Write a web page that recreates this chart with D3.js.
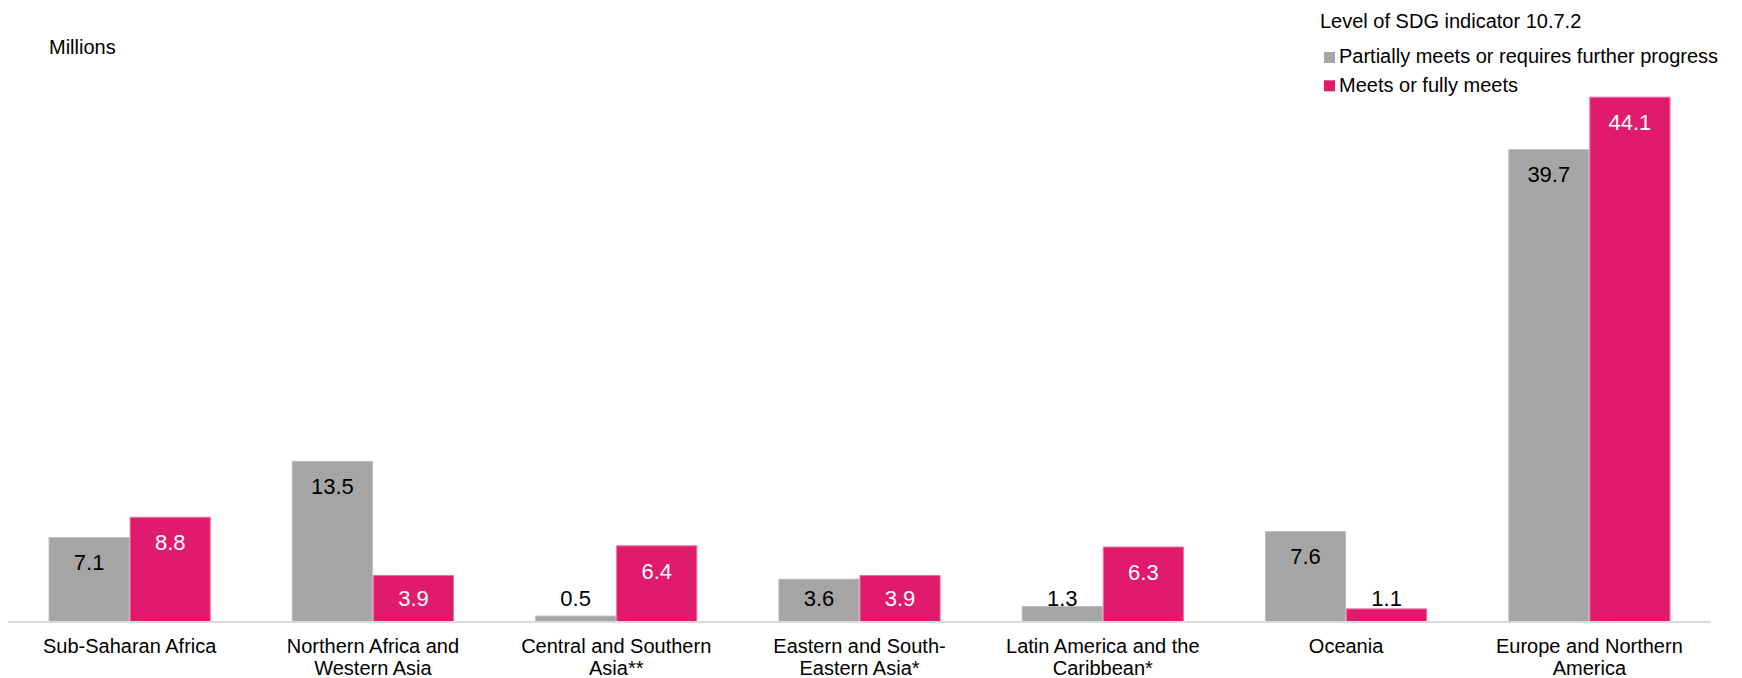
<!DOCTYPE html>
<html>
<head>
<meta charset="utf-8">
<script src="https://cdn.jsdelivr.net/npm/d3@7/dist/d3.min.js"></script>
<style>
  html, body { margin: 0; padding: 0; background: #ffffff; }
  svg { display: block; font-family: "Liberation Sans", Arial, sans-serif; }
</style>
</head>
<body>
<svg id="chart" width="1742" height="678"></svg>
<script>
// Regions (line breaks mark how each axis label wraps)
const categories = [
  "Sub-Saharan Africa",
  "Northern Africa and\nWestern Asia",
  "Central and Southern\nAsia**",
  "Eastern and South-\nEastern Asia*",
  "Latin America and the\nCaribbean*",
  "Oceania",
  "Europe and Northern\nAmerica"
];

// Migrants in millions, by level of SDG indicator 10.7.2
const partiallyMeets = [7.1, 13.5, 0.5, 3.6, 1.3, 7.6, 39.7];
const fullyMeets     = [8.8, 3.9, 6.4, 3.9, 6.3, 1.1, 44.1];

const seriesNames = [
  "Partially meets or requires further progress",
  "Meets or fully meets"
];
const legendTitle = "Level of SDG indicator 10.7.2";
const unitLabel = "Millions";
const yDomain = [0, 50];

const colors = ["#a5a5a5", "#e01a6c"];
const edgeColors = ["#bdbdbd", "#ec6d9f"];
const insideText = ["#000000", "#ffffff"];

const svg = d3.select("#chart");

const plot = { left: 8, right: 1711, top: 27, bottom: 622 };

const x0 = d3.scaleBand()
  .domain(categories)
  .range([plot.left, plot.right])
  .paddingInner(1 / 3)
  .paddingOuter(1 / 6);

const x1 = d3.scaleBand()
  .domain([0, 1])
  .range([0, x0.bandwidth()]);

const y = d3.scaleLinear()
  .domain(yDomain)
  .range([plot.bottom, plot.top]);

const rows = categories.map((c, i) => ({
  category: c,
  values: [partiallyMeets[i], fullyMeets[i]]
}));

// Bars
const groups = svg.append("g").selectAll("g")
  .data(rows)
  .join("g")
  .attr("transform", d => `translate(${x0(d.category)},0)`);

groups.selectAll("rect")
  .data(d => d.values.map((v, s) => ({ v, s })))
  .join("rect")
  .attr("x", d => x1(d.s) + 0.5)
  .attr("y", d => y(d.v))
  .attr("width", x1.bandwidth() - 1)
  .attr("height", d => y(0) - y(d.v))
  .attr("fill", d => colors[d.s])
  .attr("stroke", d => edgeColors[d.s])
  .attr("stroke-width", 1);

// Value labels: near the top inside the bar, never lower than a fixed
// distance above the baseline (short bars push the label above them)
const labelFloor = y(0) - 24;
groups.selectAll("text.value")
  .data(d => d.values.map((v, s) => ({ v, s })))
  .join("text")
  .attr("class", "value")
  .attr("x", d => x1(d.s) + x1.bandwidth() / 2)
  .attr("y", d => Math.min(y(d.v) + 25, labelFloor))
  .attr("dy", "0.36em")
  .attr("text-anchor", "middle")
  .attr("font-size", 22)
  .attr("fill", d => {
    const cy = Math.min(y(d.v) + 25, labelFloor);
    return (y(d.v) < cy - 8) ? insideText[d.s] : "#000000";
  })
  .text(d => d3.format(".1f")(d.v));

// Category axis
const xAxis = d3.axisBottom(x0).tickSize(0).tickPadding(0);
const axisG = svg.append("g")
  .attr("transform", `translate(0,${plot.bottom})`)
  .call(xAxis);
axisG.select(".domain").remove();
axisG.append("line")
  .attr("x1", plot.left)
  .attr("x2", plot.right)
  .attr("y1", 0)
  .attr("y2", 0)
  .attr("stroke", "#d9d9d9")
  .attr("stroke-width", 2);

axisG.selectAll(".tick text").each(function(d) {
  const t = d3.select(this);
  t.text(null)
    .attr("y", 31)
    .attr("dy", null)
    .attr("font-size", 20)
    .attr("fill", "#000000")
    .attr("font-family", "'Liberation Sans', Arial, sans-serif");
  d.split("\n").forEach((line, i) => {
    t.append("tspan")
      .attr("x", 0)
      .attr("dy", i === 0 ? 0 : 21.5)
      .text(line);
  });
});

// Unit label
svg.append("text")
  .attr("x", 49)
  .attr("y", 54)
  .attr("font-size", 20)
  .attr("fill", "#000000")
  .text(unitLabel);

// Legend
const legend = svg.append("g").attr("transform", "translate(1320,0)");
legend.append("text")
  .attr("x", 0)
  .attr("y", 28)
  .attr("font-size", 20)
  .attr("fill", "#000000")
  .text(legendTitle);

const items = legend.selectAll("g.item")
  .data(seriesNames)
  .join("g")
  .attr("class", "item")
  .attr("transform", (d, i) => `translate(0,${52 + i * 28.3})`);

items.append("rect")
  .attr("x", 4)
  .attr("y", 0)
  .attr("width", 11)
  .attr("height", 11)
  .attr("fill", (d, i) => colors[i]);

items.append("text")
  .attr("x", 19)
  .attr("y", 11.3)
  .attr("font-size", 20)
  .attr("fill", "#000000")
  .text(d => d);
</script>
</body>
</html>
